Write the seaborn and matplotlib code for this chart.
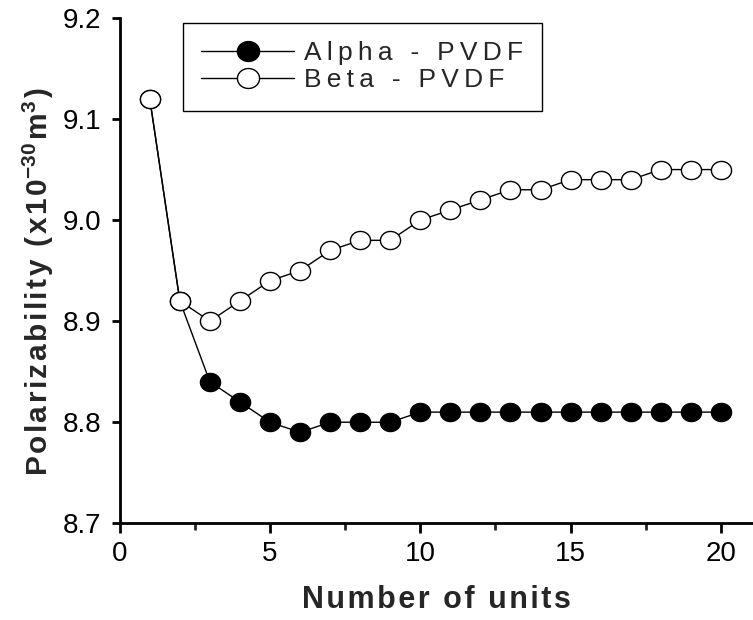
import numpy as np
import pandas as pd
import matplotlib
matplotlib.use("Agg")
import matplotlib.pyplot as plt
from matplotlib.path import Path
from matplotlib.ticker import MultipleLocator, FormatStrFormatter
import seaborn as sns

# Polarizability vs. chain length for the two PVDF phases
units = list(range(1, 21))
alpha_pvdf = [9.12, 8.92, 8.84, 8.82, 8.80, 8.79, 8.80, 8.80, 8.80, 8.81,
              8.81, 8.81, 8.81, 8.81, 8.81, 8.81, 8.81, 8.81, 8.81, 8.81]
beta_pvdf = [9.12, 8.92, 8.90, 8.92, 8.94, 8.95, 8.97, 8.98, 8.98, 9.00,
             9.01, 9.02, 9.03, 9.03, 9.04, 9.04, 9.04, 9.05, 9.05, 9.05]
series_names = ["Alpha - PVDF", "Beta - PVDF"]
x_title = "Number of units"
y_title = "Polarizability (x10"

sns.set_style("ticks")
plt.rcParams["font.family"] = ["Liberation Sans", "DejaVu Sans"]
plt.rcParams["mathtext.fontset"] = "custom"
plt.rcParams["mathtext.rm"] = "Liberation Sans:bold"
plt.rcParams["mathtext.it"] = "Liberation Sans:bold"
plt.rcParams["mathtext.bf"] = "Liberation Sans:bold"


def spaced(text, gap):
    """Widen the tracking of a string by putting a narrow space between glyphs."""
    return gap.join(text)


THIN = "\u2009"
HAIR = "\u200a"

# slightly flattened ellipse marker
t = np.linspace(0, 2 * np.pi, 60)
ellipse = Path(np.column_stack([np.cos(t), 0.9 * np.sin(t)]), closed=True)

fig = plt.figure(figsize=(7.53, 6.2), dpi=100)
ax = fig.add_axes([0.159, 0.156, 0.841, 0.815])

df = pd.DataFrame({"units": units, "alpha": alpha_pvdf, "beta": beta_pvdf})

common = dict(color="black", linewidth=1.0, marker=ellipse, markersize=14.5,
              markeredgecolor="black", markeredgewidth=1.0)
sns.lineplot(data=df, x="units", y="alpha", ax=ax, markerfacecolor="black",
             label=spaced(series_names[0], THIN), zorder=2, **common)
sns.lineplot(data=df, x="units", y="beta", ax=ax, markerfacecolor="white",
             label=spaced(series_names[1], THIN), zorder=3, **common)

ax.set_xlim(0, 21.07)
ax.set_ylim(8.7, 9.2)
ax.xaxis.set_major_locator(MultipleLocator(5))
ax.xaxis.set_minor_locator(MultipleLocator(2.5))
ax.yaxis.set_major_locator(MultipleLocator(0.1))
ax.yaxis.set_major_formatter(FormatStrFormatter("%.1f"))

for side in ("top", "right"):
    ax.spines[side].set_visible(False)
for side in ("left", "bottom"):
    ax.spines[side].set_linewidth(2)
    ax.spines[side].set_color("black")

ax.tick_params(axis="y", which="major", direction="out", length=6, width=2,
               labelsize=20, colors="black", pad=7)
ax.tick_params(axis="x", which="major", direction="out", length=7.5, width=2,
               labelsize=20, colors="black", pad=5)
ax.tick_params(axis="x", which="minor", direction="out", length=5, width=2)

ax.set_xlabel(spaced(x_title, HAIR), fontsize=22, fontweight="bold", labelpad=13)
ylab = spaced(y_title, HAIR) + r"$^{-30}$" + HAIR + "m" + r"$^{3}$" + HAIR + ")"
ax.set_ylabel(ylab, fontsize=21.5, fontweight="bold", labelpad=5)
ax.yaxis.label.set_y(0.477)

leg = ax.legend(loc="upper left", bbox_to_anchor=(0.243, 0.963), bbox_transform=fig.transFigure,
                borderaxespad=0, fontsize=19, frameon=True, fancybox=False,
                handlelength=3.5, handletextpad=0.4, borderpad=0.7, labelspacing=0.1,
                markerscale=1.1)
leg.get_frame().set_edgecolor("black")
leg.get_frame().set_linewidth(1.0)
leg.get_frame().set_alpha(1)

fig.savefig("out.png", dpi=100)
